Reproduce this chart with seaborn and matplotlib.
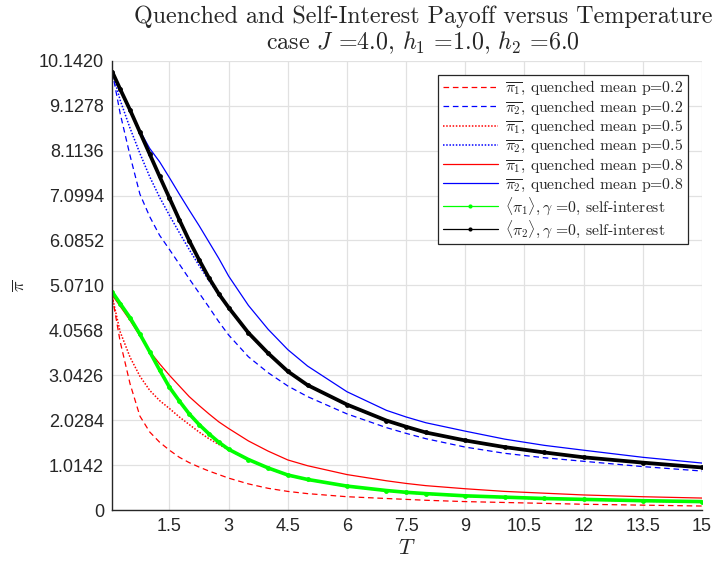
import numpy as np
import seaborn as sns
import matplotlib.pyplot as plt
from matplotlib.lines import Line2D

T = [0.05, 0.25, 0.5, 0.75, 1.0, 1.25, 1.5, 1.75, 2.0, 2.25, 2.5, 2.75, 3.0,
     3.5, 4.0, 4.5, 5.0, 6.0, 7.0, 7.5, 8.0, 9.0, 10.0, 11.0, 12.0, 13.5, 15.0]

# quenched means, player 1
pi1_p02 = [4.81, 3.80, 2.85, 2.12, 1.76, 1.53, 1.35, 1.19, 1.07, 0.97, 0.88, 0.80, 0.72,
           0.59, 0.49, 0.42, 0.37, 0.30, 0.26, 0.24, 0.22, 0.19, 0.17, 0.15, 0.13, 0.11, 0.09]
pi1_p05 = [4.81, 4.02, 3.45, 3.02, 2.70, 2.47, 2.29, 2.10, 1.93, 1.76, 1.61, 1.48, 1.36,
           1.13, 0.94, 0.78, 0.68, 0.53, 0.43, 0.39, 0.36, 0.31, 0.28, 0.25, 0.23, 0.20, 0.18]
pi1_p08 = [4.85, 4.60, 4.28, 3.93, 3.58, 3.30, 3.04, 2.80, 2.56, 2.36, 2.17, 1.99, 1.84,
           1.56, 1.33, 1.13, 1.00, 0.80, 0.66, 0.60, 0.55, 0.48, 0.42, 0.38, 0.34, 0.30, 0.27]

# quenched means, player 2
pi2_p02 = [9.89, 8.95, 8.00, 7.13, 6.62, 6.20, 5.88, 5.55, 5.22, 4.90, 4.58, 4.25, 3.95,
           3.46, 3.10, 2.80, 2.56, 2.17, 1.86, 1.73, 1.61, 1.42, 1.28, 1.18, 1.10, 0.98, 0.88]
pi2_p05 = [9.89, 9.25, 8.62, 8.05, 7.52, 7.06, 6.65, 6.26, 5.88, 5.52, 5.18, 4.86, 4.55,
           3.98, 3.53, 3.12, 2.81, 2.37, 2.01, 1.87, 1.74, 1.56, 1.41, 1.29, 1.18, 1.06, 0.95]
pi2_p08 = [9.89, 9.50, 9.03, 8.56, 8.16, 7.86, 7.50, 7.13, 6.77, 6.42, 6.05, 5.68, 5.28,
           4.62, 4.08, 3.62, 3.25, 2.67, 2.25, 2.10, 1.97, 1.78, 1.60, 1.46, 1.35, 1.19, 1.06]

# self-interest (gamma = 0)
si_pi1 = [4.92, 4.66, 4.34, 3.97, 3.57, 3.16, 2.77, 2.46, 2.17, 1.93, 1.72, 1.53, 1.37,
          1.14, 0.95, 0.79, 0.69, 0.54, 0.44, 0.40, 0.37, 0.32, 0.29, 0.26, 0.24, 0.21, 0.19]
si_pi2 = [9.89, 9.50, 9.03, 8.53, 8.03, 7.53, 7.04, 6.55, 6.08, 5.65, 5.24, 4.88, 4.57,
          4.00, 3.54, 3.13, 2.82, 2.38, 2.02, 1.88, 1.75, 1.57, 1.42, 1.30, 1.19, 1.07, 0.96]

labels = [r'$\overline{\pi_1}$, quenched mean p=0.2',
          r'$\overline{\pi_2}$, quenched mean p=0.2',
          r'$\overline{\pi_1}$, quenched mean p=0.5',
          r'$\overline{\pi_2}$, quenched mean p=0.5',
          r'$\overline{\pi_1}$, quenched mean p=0.8',
          r'$\overline{\pi_2}$, quenched mean p=0.8',
          r'$\langle\pi_1\rangle, \gamma$ =0, self-interest',
          r'$\langle\pi_2\rangle, \gamma$ =0, self-interest']

sns.set_style("white")
plt.rcParams['mathtext.fontset'] = 'cm'
plt.rcParams['font.family'] = ['Liberation Sans', 'DejaVu Sans']
plt.rcParams['axes.unicode_minus'] = False

dash = (0, (4.5, 3))
dot = (0, (1, 1.1))
quenched = [
    (pi1_p02, 'red', dash, 0.9),
    (pi2_p02, 'blue', dash, 0.9),
    (pi1_p05, 'red', dot, 1.1),
    (pi2_p05, 'blue', dot, 1.1),
    (pi1_p08, 'red', '-', 0.9),
    (pi2_p08, 'blue', '-', 0.9),
]

fig = plt.figure(figsize=(7.13, 5.67), dpi=100)
ax = fig.add_axes([0.1575, 0.1005, 0.827, 0.7924])

for vals, color, ls, lw in quenched:
    sns.lineplot(x=T, y=vals, color=color, linestyle=ls, linewidth=lw, ax=ax)

sns.lineplot(x=T, y=si_pi1, color='#00ff00', linewidth=2.6, marker='o',
             markersize=3.5, markeredgewidth=0, ax=ax)
sns.lineplot(x=T, y=si_pi2, color='black', linewidth=2.7, marker='o',
             markersize=3.5, markeredgewidth=0, ax=ax)

# axes look
ymax = 10.142
ax.set_xlim(0.05, 15)
ax.set_ylim(0, ymax)
ax.set_xticks(np.arange(1.5, 15.01, 1.5))
ax.set_xticklabels(['1.5', '3', '4.5', '6', '7.5', '9', '10.5', '12', '13.5', '15'])
yt = np.linspace(0, ymax, 11)
ax.set_yticks(yt)
ax.set_yticklabels(['0'] + ['%.4f' % v for v in yt[1:]])
ax.tick_params(direction='in', length=5, width=0.9, colors='#262626',
               labelsize=13)
ax.tick_params(axis='x', pad=6)
ax.tick_params(axis='y', pad=6)
ax.grid(True, color='#e1e1e1', linewidth=0.9)
ax.set_axisbelow(True)
for side in ['top', 'right']:
    ax.spines[side].set_visible(False)
for side in ['left', 'bottom']:
    ax.spines[side].set_color('#262626')
    ax.spines[side].set_linewidth(1.0)

ax.set_xlabel(r'$T$', fontsize=16, labelpad=2)
ax.set_ylabel(r'$\overline{\pi}$', fontsize=13, labelpad=8)

fig.text(0.593, 1 - 17 / 567, 'Quenched and Self-Interest Payoff versus Temperature',
         ha='center', va='center', family='cmr10', fontsize=17.3)
fig.text(0.593, 1 - 43 / 567, r'case $J$ =4.0, $h_1$ =1.0, $h_2$ =6.0',
         ha='center', va='center', family='cmr10', fontsize=17.3)

# legend
styles = [('red', dash, None, 0.9), ('blue', dash, None, 0.9),
          ('red', dot, None, 1.1), ('blue', dot, None, 1.1),
          ('red', '-', None, 0.9), ('blue', '-', None, 0.9),
          ('#00ff00', '-', 'o', 0.9), ('black', '-', 'o', 0.9)]
handles = [Line2D([], [], color=c, linestyle=ls, linewidth=lw, marker=m,
                  markersize=3, markeredgewidth=0)
           for c, ls, m, lw in styles]
leg = ax.legend(handles, labels, loc='upper right', bbox_to_anchor=(0.976, 0.969),
                borderaxespad=0, fancybox=False, framealpha=1, edgecolor='#262626',
                prop={'family': 'cmr10', 'size': 11.3}, handlelength=3.5,
                handletextpad=0.45, labelspacing=0.08, borderpad=0.3)
leg.get_frame().set_linewidth(0.9)

fig.savefig('out.png', dpi=100)
